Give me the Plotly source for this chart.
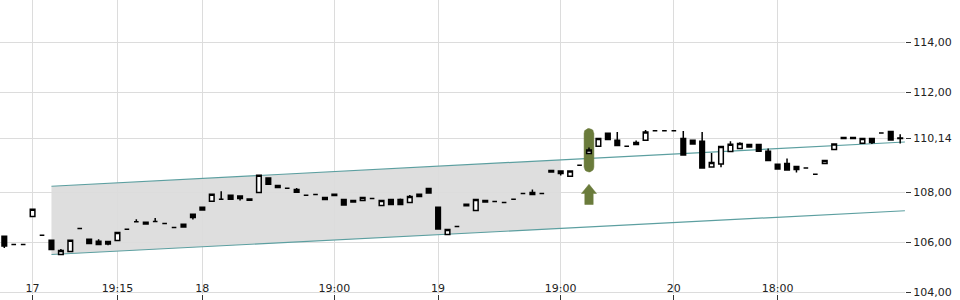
import numpy as np
import plotly.graph_objects as go

# ---- data ----
bar_index = list(range(96))
opens = [106.23,105.90,105.90,107.02,106.27,106.07,105.50,105.62,106.54,106.11,
         106.03,105.92,106.06,106.51,106.81,106.79,106.82,106.74,106.58,106.71,
         107.11,107.39,107.63,107.71,107.87,107.74,107.72,107.98,108.56,108.26,
         108.15,108.10,107.87,107.90,107.78,107.91,107.70,107.66,107.66,107.74,
         107.46,107.70,107.70,107.58,107.82,108.14,107.39,106.30,106.62,107.51,
         107.26,107.66,107.62,107.58,107.71,107.94,107.90,107.94,108.86,108.74,
         108.63,109.07,109.54,109.83,110.35,110.07,109.83,109.98,110.07,110.45,
         110.45,110.45,110.14,110.07,110.03,109.00,109.12,109.62,109.74,109.90,
         109.90,109.63,109.11,109.14,109.02,108.96,108.71,109.14,109.70,110.18,
         110.18,109.95,110.14,110.36,110.42,110.16]
highs = [106.23,105.90,105.90,107.31,106.27,106.07,105.72,106.07,106.54,106.11,
         106.11,106.02,106.38,106.51,106.91,106.79,106.96,106.74,106.58,106.71,
         107.11,107.39,107.91,108.03,107.87,107.84,107.72,108.67,108.56,108.26,
         108.15,108.16,107.87,107.90,107.78,107.91,107.70,107.66,107.78,107.74,
         107.66,107.70,107.74,107.88,107.91,108.14,107.39,106.50,106.62,107.51,
         107.70,107.66,107.62,107.58,107.71,107.94,108.10,107.94,108.86,108.84,
         108.84,109.07,109.78,110.14,110.35,110.40,109.83,110.06,110.48,110.45,
         110.45,110.45,110.44,110.07,110.40,109.56,109.82,110.03,109.99,109.90,
         109.90,109.74,109.11,109.34,109.02,108.96,108.71,109.26,109.92,110.18,
         110.18,110.14,110.14,110.36,110.42,110.31]
lows = [105.76,105.90,105.90,107.02,106.27,105.70,105.50,105.62,106.54,105.94,
        105.90,105.87,106.06,106.51,106.81,106.72,106.82,106.74,106.58,106.60,
        106.90,107.28,107.63,107.71,107.71,107.66,107.67,107.98,108.31,108.18,
        108.15,107.99,107.87,107.90,107.70,107.86,107.48,107.60,107.66,107.74,
        107.46,107.50,107.50,107.58,107.82,107.96,106.52,106.30,106.62,107.45,
        107.26,107.60,107.62,107.58,107.71,107.94,107.90,107.94,108.80,108.66,
        108.63,109.07,109.54,109.83,110.10,109.86,109.83,109.90,110.07,110.45,
        110.45,110.45,109.48,109.92,108.96,109.00,108.99,109.62,109.74,109.80,
        109.63,109.26,108.92,108.88,108.78,108.96,108.71,109.14,109.70,110.14,
        110.14,109.95,109.92,110.36,110.08,109.94]
closes = [105.84,105.90,105.90,107.31,106.27,105.70,105.66,106.07,106.54,105.94,
          105.90,106.02,106.38,106.51,106.81,106.72,106.82,106.74,106.58,106.60,
          106.98,107.28,107.91,107.71,107.71,107.84,107.67,108.67,108.31,108.18,
          108.15,107.99,107.87,107.90,107.70,107.86,107.48,107.60,107.78,107.74,
          107.66,107.50,107.50,107.82,107.91,107.96,106.52,106.50,106.62,107.45,
          107.70,107.60,107.62,107.58,107.71,107.94,107.98,107.94,108.80,108.84,
          108.84,109.07,109.68,110.14,110.10,109.86,109.83,109.90,110.40,110.45,
          110.45,110.45,109.48,109.92,108.96,109.18,109.82,109.91,109.94,109.80,
          109.63,109.26,108.92,108.88,108.90,108.96,108.71,109.26,109.92,110.14,
          110.14,110.14,109.98,110.36,110.08,110.14]

tick_positions = [3, 12, 21, 35, 46, 59, 71, 82]
tick_labels = ["17", "19:15", "18", "19:00", "19", "19:00", "20", "18:00"]

y_tick_values = [104.0, 106.0, 108.0, 110.14, 112.0, 114.0]
y_tick_labels = [f"{v:.2f}".replace(".", ",") for v in y_tick_values]

# trend channel
channel_x = [5, 59]
channel_top = [108.23, 109.28]
channel_bottom = [105.50, 106.54]
line_x = [5, 95.5]
line_top = [108.23, 110.00]
line_bottom = [105.50, 107.25]

# signal marker
signal_x = 62
signal_top = 110.54
signal_bottom = 108.80
arrow_tip = 108.31
arrow_head_base = 107.94
arrow_bottom = 107.50

# ---- layout geometry ----
W, H = 960, 300
ML, MR, MT, MB = 0, 55, 0, 6
x_range = [-0.456, 95.51]
y_range = [103.92, 115.68]
px_per_x = (W - ML - MR) / (x_range[1] - x_range[0])
px_per_y = (H - MT - MB) / (y_range[1] - y_range[0])

GREEN = "#6a7b3b"
TEAL = "#5c9fa0"
GRID = "#dcdcdc"
TXT = "#222222"

fig = go.Figure()

# channel fill (below grid)
path = (f"M {channel_x[0]},{channel_top[0]} L {channel_x[1]},{channel_top[1]} "
        f"L {channel_x[1]},{channel_bottom[1]} L {channel_x[0]},{channel_bottom[0]} Z")
fig.add_shape(type="path", path=path, xref="x", yref="y", layer="below",
              fillcolor="#dedede", line=dict(width=0))

# channel lines
for ys in (line_top, line_bottom):
    fig.add_trace(go.Scatter(x=line_x, y=ys, mode="lines",
                             line=dict(color=TEAL, width=1.2),
                             hoverinfo="skip", showlegend=False))

# pill
hw_px = 4.9
hwx = hw_px / px_per_x
ry = hw_px / px_per_y
ang_top = np.linspace(0, np.pi, 15)
ang_bot = np.linspace(np.pi, 2 * np.pi, 15)
px_ = list(signal_x + hwx * np.cos(ang_top)) + list(signal_x + hwx * np.cos(ang_bot))
py_ = list(signal_top - ry + ry * np.sin(ang_top)) + list(signal_bottom + ry + ry * np.sin(ang_bot))
fig.add_trace(go.Scatter(x=px_ + [px_[0]], y=py_ + [py_[0]], mode="lines", fill="toself",
                         fillcolor=GREEN, line=dict(color=GREEN, width=0.5),
                         hoverinfo="skip", showlegend=False))

# arrow
head_hw = 7.5 / px_per_x
stem_hw = 4.2 / px_per_x
ax_ = [signal_x, signal_x + head_hw, signal_x + stem_hw, signal_x + stem_hw,
       signal_x - stem_hw, signal_x - stem_hw, signal_x - head_hw, signal_x]
ay_ = [arrow_tip, arrow_head_base, arrow_head_base, arrow_bottom,
       arrow_bottom, arrow_head_base, arrow_head_base, arrow_tip]
fig.add_trace(go.Scatter(x=ax_, y=ay_, mode="lines", fill="toself",
                         fillcolor=GREEN, line=dict(color=GREEN, width=0.5),
                         hoverinfo="skip", showlegend=False))

# candles on overlay axes (drawn above)
fig.add_trace(go.Candlestick(
    x=bar_index, open=opens, high=highs, low=lows, close=closes,
    xaxis="x2", yaxis="y2",
    increasing=dict(fillcolor="#ffffff", line=dict(color="#000000", width=1.5)),
    decreasing=dict(fillcolor="#000000", line=dict(color="#000000", width=1.5)),
    whiskerwidth=0, showlegend=False, hoverinfo="skip"))

fig.update_layout(
    width=W, height=H,
    margin=dict(l=ML, r=MR, t=MT, b=MB, pad=0),
    paper_bgcolor="#ffffff", plot_bgcolor="#ffffff",
    showlegend=False,
    font=dict(family="DejaVu Sans", size=11, color=TXT),
    xaxis=dict(range=x_range, tickvals=tick_positions, ticktext=tick_labels,
               showgrid=True, gridcolor=GRID, gridwidth=1, zeroline=False,
               showline=False, ticks="outside", ticklen=6, tickcolor="#333333",
               showticklabels=False,
               rangeslider=dict(visible=False), fixedrange=True),
    yaxis=dict(range=y_range, side="right", tickvals=y_tick_values, ticktext=y_tick_labels,
               showgrid=True, gridcolor=GRID, gridwidth=1, zeroline=False,
               showline=False, ticks="outside", ticklen=5, tickcolor="#333333",
               tickfont=dict(size=11, color=TXT), fixedrange=True),
    xaxis2=dict(range=x_range, overlaying="x", anchor="y2",
                tickvals=tick_positions, ticktext=tick_labels,
                showgrid=False, zeroline=False, showline=False, ticks="",
                ticklabelposition="inside", ticklabelstandoff=-3,
                tickfont=dict(size=11, color=TXT),
                rangeslider=dict(visible=False), fixedrange=True),
    yaxis2=dict(range=y_range, overlaying="y", side="right", anchor="x2",
                showgrid=False, zeroline=False, showline=False, ticks="",
                showticklabels=False, fixedrange=True),
)

fig.write_html("out.html")
